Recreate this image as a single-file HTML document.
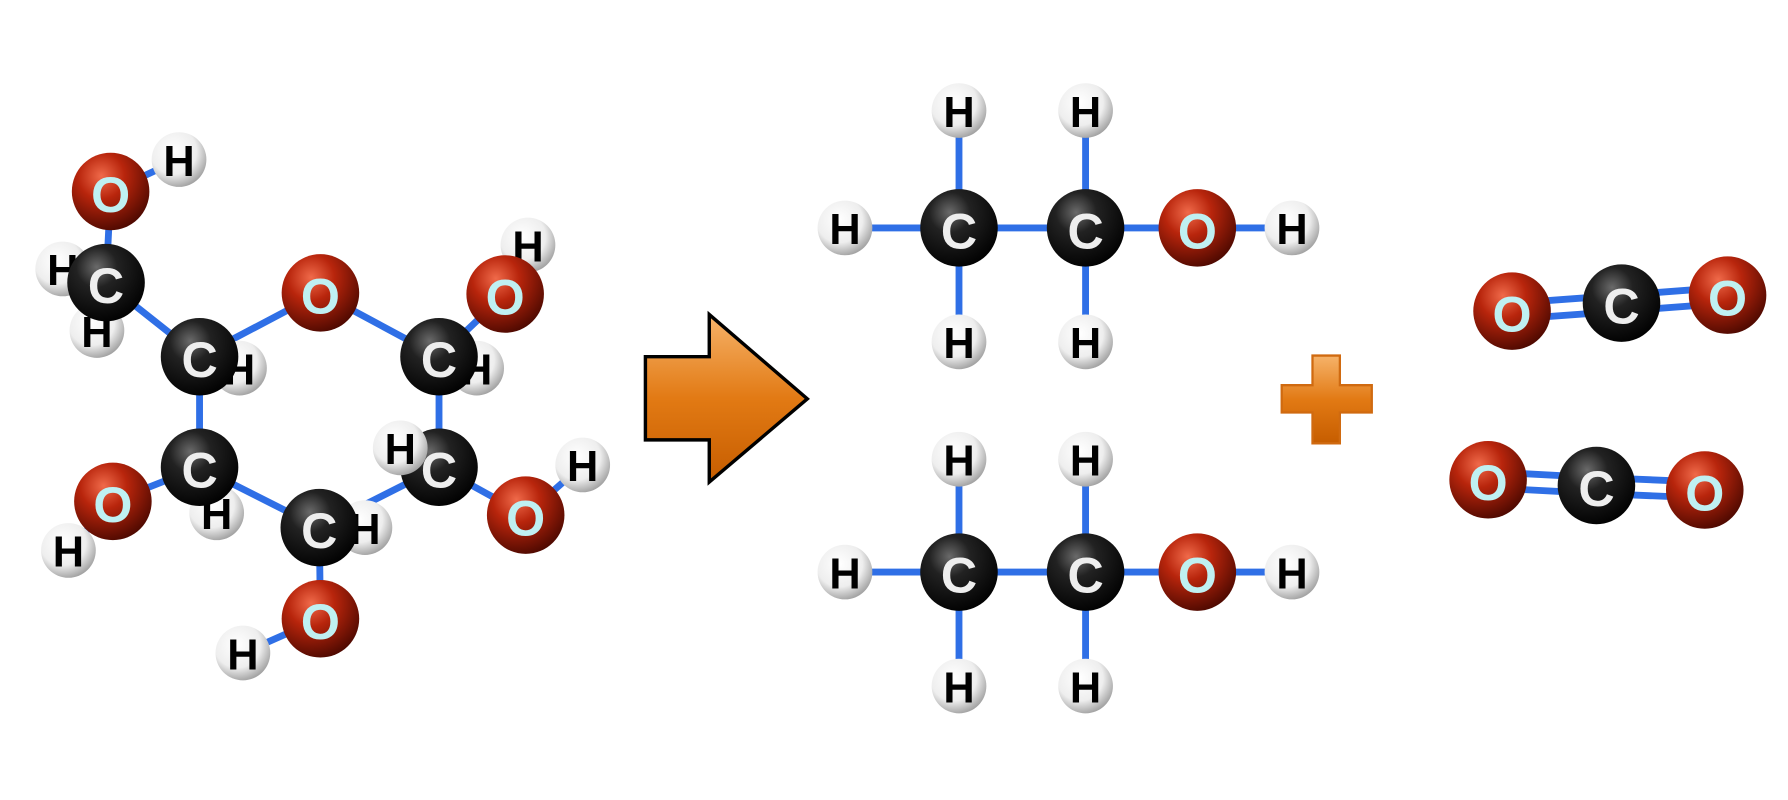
<!DOCTYPE html>
<html><head><meta charset="utf-8"><style>
html,body{margin:0;padding:0;background:#fff;width:1788px;height:800px;overflow:hidden}
svg{display:block}
text{font-family:"Liberation Sans","DejaVu Sans",sans-serif;font-weight:bold;text-anchor:middle;dominant-baseline:central}
</style></head><body>
<svg width="1788" height="800" viewBox="0 0 1568 702" preserveAspectRatio="none" xmlns="http://www.w3.org/2000/svg">
<defs>
<radialGradient id="gC" cx="0.38" cy="0.3" r="0.75"><stop offset="0" stop-color="#6a6a6a"/><stop offset="0.35" stop-color="#222"/><stop offset="1" stop-color="#000"/></radialGradient>
<radialGradient id="gO" cx="0.38" cy="0.3" r="0.75"><stop offset="0" stop-color="#f06a4a"/><stop offset="0.4" stop-color="#b8250c"/><stop offset="1" stop-color="#4a0800"/></radialGradient>
<radialGradient id="gH" cx="0.4" cy="0.35" r="0.7"><stop offset="0" stop-color="#ffffff"/><stop offset="0.6" stop-color="#eeeeee"/><stop offset="1" stop-color="#9a9a9a"/></radialGradient>
<linearGradient id="gA" x1="0" y1="0" x2="0" y2="1"><stop offset="0" stop-color="#f6b36a"/><stop offset="0.5" stop-color="#e27a14"/><stop offset="1" stop-color="#c65d00"/></linearGradient>
<g id="H"><circle r="24" fill="url(#gH)"/><text y="2" font-size="38" fill="#000">H</text></g>
<g id="C"><circle r="34" fill="url(#gC)"/><text y="3" font-size="44" fill="#eee">C</text></g>
<g id="O"><circle r="34" fill="url(#gO)"/><text y="3" font-size="44" fill="#bff0f2">O</text></g>
</defs>
<g stroke="#2f6fe6" stroke-width="6" stroke-linecap="round">
<!-- glucose bonds -->
<line x1="97" y1="168" x2="157" y2="140"/><line x1="97" y1="168" x2="93" y2="248"/>
<line x1="93" y1="248" x2="55" y2="236"/><line x1="93" y1="248" x2="85" y2="290"/>
<line x1="93" y1="248" x2="175" y2="313"/><line x1="175" y1="313" x2="281" y2="257"/>
<line x1="281" y1="257" x2="385" y2="313"/><line x1="385" y1="313" x2="385" y2="410"/>
<line x1="385" y1="410" x2="280" y2="463"/><line x1="280" y1="463" x2="175" y2="410"/>
<line x1="175" y1="410" x2="175" y2="313"/>
<line x1="385" y1="313" x2="443" y2="258"/><line x1="443" y1="258" x2="463" y2="215"/>
<line x1="385" y1="410" x2="461" y2="452"/><line x1="461" y1="452" x2="511" y2="408"/>
<line x1="175" y1="410" x2="99" y2="440"/><line x1="99" y1="440" x2="60" y2="483"/>
<line x1="280" y1="463" x2="281" y2="543"/><line x1="281" y1="543" x2="213" y2="573"/>
<!-- ethanol 1 -->
<line x1="741" y1="200" x2="1133" y2="200"/>
<line x1="841" y1="97" x2="841" y2="300"/><line x1="952" y1="97" x2="952" y2="300"/>
<!-- ethanol 2 -->
<line x1="741" y1="502" x2="1133" y2="502"/>
<line x1="841" y1="403" x2="841" y2="602"/><line x1="952" y1="403" x2="952" y2="602"/>
<!-- CO2 -->
<line x1="1326" y1="266" x2="1422" y2="259"/><line x1="1327" y1="280" x2="1423" y2="273"/>
<line x1="1422" y1="259" x2="1515" y2="252"/><line x1="1423" y1="273" x2="1516" y2="266"/>
<line x1="1305" y1="414" x2="1400" y2="419"/><line x1="1305" y1="428" x2="1400" y2="433"/>
<line x1="1400" y1="419" x2="1495" y2="423"/><line x1="1400" y1="433" x2="1495" y2="437"/>
</g>
<!-- glucose atoms -->
<use href="#H" x="157" y="140"/><use href="#H" x="55" y="236"/><use href="#H" x="85" y="290"/>
<use href="#H" x="210" y="323"/><use href="#H" x="418" y="323"/><use href="#H" x="190" y="450"/><use href="#H" x="320" y="463"/>
<use href="#H" x="463" y="215"/><use href="#H" x="511" y="408"/><use href="#H" x="60" y="483"/><use href="#H" x="213" y="573"/>
<use href="#O" x="97" y="168"/><use href="#C" x="93" y="248"/>
<use href="#C" x="175" y="313"/><use href="#O" x="281" y="257"/><use href="#C" x="385" y="313"/>
<use href="#C" x="385" y="410"/><use href="#C" x="280" y="463"/><use href="#C" x="175" y="410"/>
<use href="#H" x="351" y="393"/>
<use href="#O" x="443" y="258"/><use href="#O" x="461" y="452"/><use href="#O" x="99" y="440"/><use href="#O" x="281" y="543"/>
<!-- arrow -->
<path d="M566 313 L622 313 L622 276 L708 350 L622 423 L622 386 L566 386 Z" fill="url(#gA)" stroke="#000" stroke-width="3" stroke-linejoin="miter"/>
<!-- ethanol atoms -->
<g>
<use href="#H" x="741" y="200"/><use href="#H" x="1133" y="200"/>
<use href="#H" x="841" y="97"/><use href="#H" x="952" y="97"/><use href="#H" x="841" y="300"/><use href="#H" x="952" y="300"/>
<use href="#C" x="841" y="200"/><use href="#C" x="952" y="200"/><use href="#O" x="1050" y="200"/>
<use href="#H" x="741" y="502"/><use href="#H" x="1133" y="502"/>
<use href="#H" x="841" y="403"/><use href="#H" x="952" y="403"/><use href="#H" x="841" y="602"/><use href="#H" x="952" y="602"/>
<use href="#C" x="841" y="502"/><use href="#C" x="952" y="502"/><use href="#O" x="1050" y="502"/>
</g>
<!-- plus -->
<path d="M1151 312 H1175 V338 H1203 V362 H1175 V389 H1151 V362 H1124 V338 H1151 Z" fill="url(#gA)" stroke="#d06a10" stroke-width="2"/>
<!-- CO2 atoms -->
<use href="#O" x="1326" y="273"/><use href="#C" x="1422" y="266"/><use href="#O" x="1515" y="259"/>
<use href="#O" x="1305" y="421"/><use href="#C" x="1400" y="426"/><use href="#O" x="1495" y="430"/>
</svg>
</body></html>
